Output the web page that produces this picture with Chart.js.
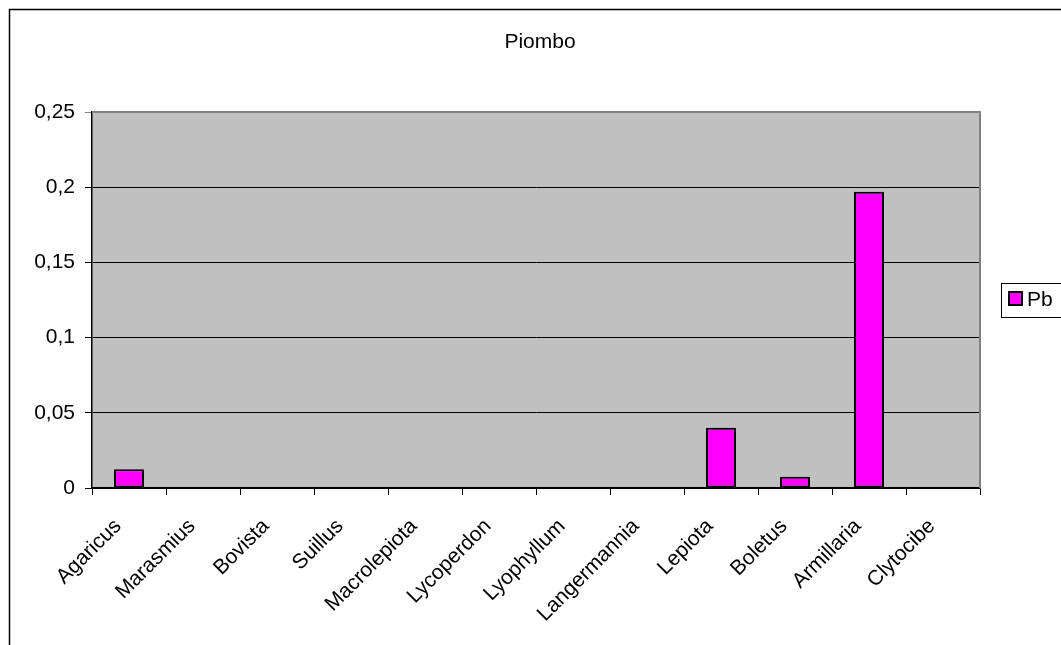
<!DOCTYPE html>
<html lang="it">
<head>
    <meta charset="UTF-8">
    <title>Piombo</title>
    <script src="https://cdn.jsdelivr.net/npm/chart.js@4.4.1/dist/chart.umd.min.js"></script>
    <style>
        html, body {
            margin: 0;
            padding: 0;
            background: #fff;
        }
        .wrap {
            position: relative;
            width: 1061px;
            height: 645px;
        }
    </style>
</head>
<body>
    <div class="wrap">
        <canvas id="chart" width="1061" height="645"></canvas>
    </div>

    <script>
        const categories = ['Agaricus', 'Marasmius', 'Bovista', 'Suillus', 'Macrolepiota', 'Lycoperdon',
            'Lyophyllum', 'Langermannia', 'Lepiota', 'Boletus', 'Armillaria', 'Clytocibe'];
        const pbValues = [0.0125, 0, 0, 0, 0, 0, 0, 0, 0.04, 0.0075, 0.197, 0];
        const yTickLabels = ['0', '0,05', '0,1', '0,15', '0,2', '0,25'];
        const chartTitle = 'Piombo';
        const seriesName = 'Pb';

        const FONT = "'Liberation Sans', Arial, sans-serif";

        // grey plot background, plot frame, outer border, title and boxed legend
        const excelLook = {
            id: 'excelLook',
            beforeDraw(chart) {
                const c = chart.ctx, a = chart.chartArea;
                c.save();
                c.fillStyle = '#C0C0C0';
                c.fillRect(a.left, a.top, a.right - a.left, a.bottom - a.top);
                c.restore();
            },
            afterDraw(chart) {
                const c = chart.ctx, a = chart.chartArea;
                c.save();
                // plot frame (top + right)
                c.strokeStyle = '#808080';
                c.lineWidth = 2;
                c.beginPath();
                c.moveTo(a.left, a.top);
                c.lineTo(a.right, a.top);
                c.lineTo(a.right, a.bottom);
                c.stroke();

                // outer chart border
                c.strokeStyle = '#000';
                c.lineWidth = 1.5;
                c.beginPath();
                c.moveTo(9.5, 645);
                c.lineTo(9.5, 9.5);
                c.lineTo(1061, 9.5);
                c.stroke();

                // title
                c.fillStyle = '#000';
                c.font = '21px ' + FONT;
                c.textAlign = 'center';
                c.textBaseline = 'alphabetic';
                c.fillText(chartTitle, 540, 48);

                // legend
                const ds = chart.data.datasets[0];
                c.lineWidth = 1;
                c.strokeStyle = '#000';
                c.strokeRect(1001.5, 283.5, 80, 34);
                c.fillStyle = ds.backgroundColor;
                c.fillRect(1009, 292, 13, 13);
                c.lineWidth = 2;
                c.strokeRect(1009, 292, 13, 13);
                c.fillStyle = '#000';
                c.textAlign = 'left';
                c.textBaseline = 'middle';
                c.fillText(ds.label, 1027, 300);
                c.restore();
            }
        };

        new Chart(document.getElementById('chart'), {
            type: 'bar',
            data: {
                labels: categories,
                datasets: [{
                    label: seriesName,
                    data: pbValues,
                    backgroundColor: '#FF00FF',
                    borderColor: '#000',
                    borderWidth: 2,
                    borderSkipped: false,
                    categoryPercentage: 1,
                    barPercentage: 0.405
                }]
            },
            options: {
                responsive: false,
                animation: false,
                layout: { padding: { left: 0, top: 112, right: 81, bottom: 0 } },
                plugins: {
                    legend: { display: false },
                    title: { display: false },
                    tooltip: { enabled: false }
                },
                scales: {
                    x: {
                        grid: {
                            offset: true,
                            drawOnChartArea: false,
                            color: '#000',
                            tickLength: 7
                        },
                        border: { color: '#000', width: 1.5 },
                        ticks: {
                            color: '#000',
                            font: { family: FONT, size: 21 },
                            minRotation: 45,
                            maxRotation: 45,
                            autoSkip: false,
                            padding: 19,
                            labelOffset: -11
                        },
                        afterFit(scale) { scale.height = 157; }
                    },
                    y: {
                        min: 0,
                        max: 0.25,
                        ticks: {
                            stepSize: 0.05,
                            color: '#000',
                            font: { family: FONT, size: 21 },
                            padding: 10,
                            callback: (v, i) => yTickLabels[i]
                        },
                        grid: {
                            color: ctx => ctx.index === yTickLabels.length - 1 ? '#808080' : '#000',
                            lineWidth: 1,
                            tickLength: 7
                        },
                        border: { color: '#000', width: 1.5 },
                        afterFit(scale) { scale.width = 92; }
                    }
                }
            },
            plugins: [excelLook]
        });
    </script>
</body>
</html>
